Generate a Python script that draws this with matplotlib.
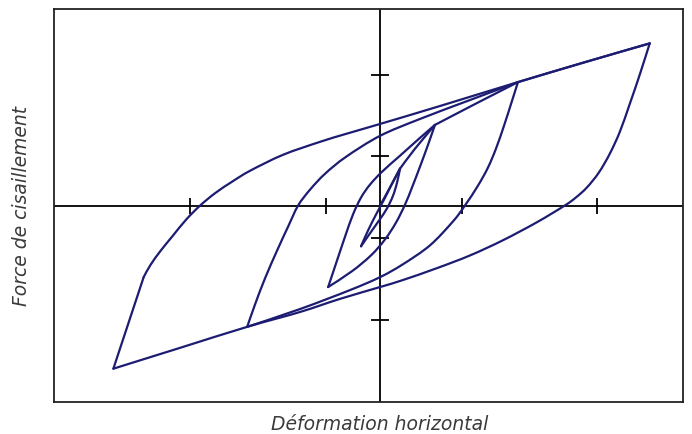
import matplotlib
matplotlib.use("Agg")
import matplotlib.pyplot as plt
import numpy as np
from matplotlib.path import Path
from matplotlib.patches import PathPatch

# hysteresis branches (deformation, shear force), cycles of growing amplitude
# small loop around the origin (+/-0.15)
loop4_load_x = [0.0, 0.075, 0.147]
loop4_load_y = [0.0, 0.225, 0.45]
loop4_unload_x = [0.147, 0.125, 0.096, 0.051, -0.007, -0.074, -0.140]
loop4_unload_y = [0.45, 0.279, 0.122, -0.036, -0.182, -0.340, -0.498]
loop4_reload_x = [-0.140, -0.088, -0.029, 0.037, 0.088, 0.147]
loop4_reload_y = [-0.498, -0.304, -0.109, 0.097, 0.267, 0.45]

# third loop (+/-0.4)
loop3_up_x = [0.147, 0.257, 0.404]
loop3_up_y = [0.45, 0.693, 0.984]
loop3_unload_x = [0.404, 0.353, 0.294, 0.235, 0.184, 0.118, 0.037, -0.066, -0.206, -0.382]
loop3_unload_y = [0.984, 0.741, 0.474, 0.219, 0.012, -0.207, -0.413, -0.608, -0.802, -0.996]
loop3_reload_x = [-0.382, -0.316, -0.257, -0.199, -0.140, -0.074, 0.015, 0.147, 0.294, 0.404]
loop3_reload_y = [-0.996, -0.668, -0.377, -0.109, 0.097, 0.255, 0.413, 0.608, 0.826, 0.984]

# second loop (+/-1.0)
loop2_up_x = [0.404, 0.699, 1.015]
loop2_up_y = [0.984, 1.239, 1.507]
loop2_unload_x = [1.015, 0.971, 0.912, 0.853, 0.794, 0.721, 0.625, 0.537, 0.368,
                  0.169, 0.0, -0.221, -0.588, -0.978]
loop2_unload_y = [1.507, 1.276, 0.972, 0.693, 0.462, 0.243, 0.0, -0.194, -0.486,
                  -0.717, -0.875, -1.033, -1.264, -1.482]
loop2_reload_x = [-0.978, -0.919, -0.846, -0.757, -0.676, -0.603, -0.515, -0.404,
                  -0.25, 0.0, 0.294, 0.662, 1.015]
loop2_reload_y = [-1.482, -1.203, -0.887, -0.547, -0.255, 0.0, 0.194, 0.389,
                  0.595, 0.851, 1.057, 1.288, 1.507]

# outer loop (+/-2.0)
loop1_up_x = [1.015, 1.507, 1.985]
loop1_up_y = [1.507, 1.750, 1.980]
loop1_unload_x = [1.985, 1.912, 1.838, 1.765, 1.691, 1.610, 1.522, 1.441, 1.360,
                  1.154, 0.904, 0.662, 0.419, 0.169, 0.0, -0.294, -0.588, -0.978,
                  -1.471, -1.963]
loop1_unload_y = [1.980, 1.600, 1.240, 0.900, 0.632, 0.401, 0.219, 0.097, 0.0,
                  -0.205, -0.425, -0.610, -0.765, -0.910, -0.996, -1.140, -1.300, -1.482,
                  -1.738, -1.993]
loop1_reload_x = [-1.963, -1.740]
loop1_reload_y = [-1.993, -0.875]
loop1_yield_x = [-1.740, -1.691, -1.618, -1.529, -1.426, -1.324, -1.213, -1.088, -0.956,
                 -0.713, -0.441, -0.25, 0.0, 0.441, 1.015, 1.507, 1.985]
loop1_yield_y = [-0.875, -0.729, -0.559, -0.377, -0.170, 0.0, 0.152, 0.292, 0.425,
                 0.620, 0.778, 0.875, 0.996, 1.215, 1.507, 1.750, 1.980]

x_ticks = [-1.4, -0.4, 0.6, 1.6]
y_ticks = [-1.4, -0.4, 0.6, 1.6]

branches = [
    (loop4_load_x, loop4_load_y), (loop4_unload_x, loop4_unload_y), (loop4_reload_x, loop4_reload_y),
    (loop3_up_x, loop3_up_y), (loop3_unload_x, loop3_unload_y), (loop3_reload_x, loop3_reload_y),
    (loop2_up_x, loop2_up_y), (loop2_unload_x, loop2_unload_y), (loop2_reload_x, loop2_reload_y),
    (loop1_up_x, loop1_up_y), (loop1_unload_x, loop1_unload_y), (loop1_reload_x, loop1_reload_y),
    (loop1_yield_x, loop1_yield_y),
]

line_color = "#1c1c72"
text_color = "#3a3a3a"


def smooth_path(xs, ys):
    # smoothed line through the points (Catmull-Rom as cubic Bezier segments)
    pts = np.column_stack([xs, ys]).astype(float)
    n = len(pts)
    verts = [pts[0]]
    codes = [Path.MOVETO]
    for i in range(n - 1):
        p0 = pts[i - 1] if i > 0 else pts[i]
        p1 = pts[i]
        p2 = pts[i + 1]
        p3 = pts[i + 2] if i + 2 < n else pts[i + 1]
        verts += [p1 + (p2 - p0) / 6, p2 - (p3 - p1) / 6, p2]
        codes += [Path.CURVE4] * 3
    return Path(verts, codes)


fig = plt.figure(figsize=(6.92, 4.35), dpi=100)
ax = fig.add_axes([54 / 692, 1 - 403 / 435, 629 / 692, 393 / 435])

# axes crossing at the origin, tick marks crossing the axis lines
ax.axhline(0, color="black", lw=1.3, zorder=1)
ax.axvline(0, color="black", lw=1.3, zorder=1)
ax.plot(x_ticks, [0] * len(x_ticks), ls="none", marker="|", ms=11, mew=1.3, color="black", zorder=1)
ax.plot([0] * len(y_ticks), y_ticks, ls="none", marker="_", ms=13, mew=1.3, color="black", zorder=1)

for bx, by in branches:
    ax.add_patch(PathPatch(smooth_path(bx, by), fill=False, edgecolor=line_color,
                           lw=1.6, capstyle="round", joinstyle="round", zorder=2))

ax.set_xlim(-2.4, 2.23)
ax.set_ylim(-2.4, 2.4)
ax.set_xticks([])
ax.set_yticks([])
for s in ax.spines.values():
    s.set_linewidth(1.3)
    s.set_color("#222222")

fig.text(380 / 692, 1 - 425 / 435, "Déformation horizontal", ha="center", va="center",
         fontsize=13.5, style="italic", color=text_color, family="DejaVu Sans")
fig.text(22 / 692, 1 - 206 / 435, "Force de cisaillement", ha="center", va="center",
         rotation=90, fontsize=13.5, style="italic", color=text_color, family="DejaVu Sans")

fig.savefig("out.png", dpi=100, facecolor="white")
